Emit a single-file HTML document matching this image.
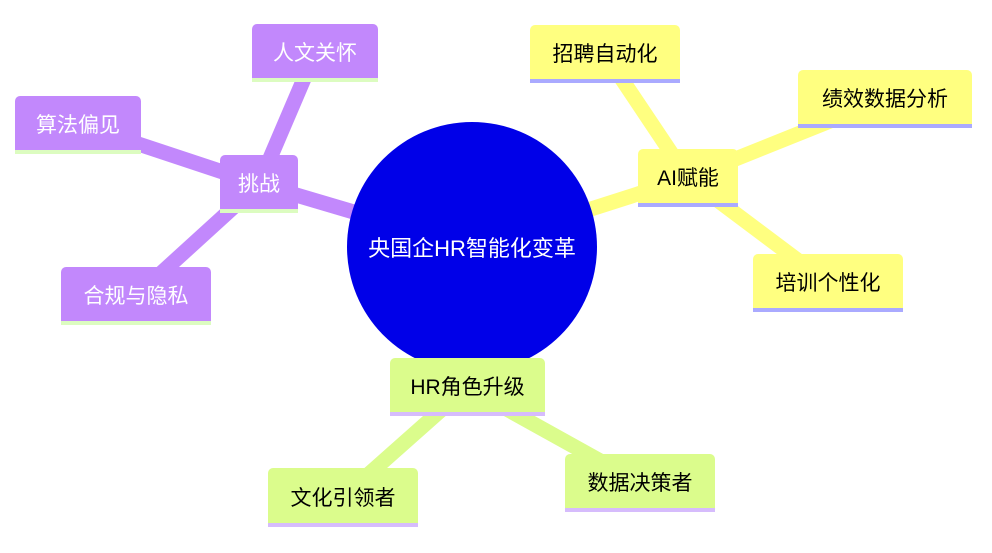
<!DOCTYPE html>
<html><head><meta charset="utf-8"><style>
body{margin:0;width:992px;height:553px;background:#fff;position:relative;overflow:hidden;font-family:"Liberation Sans","Noto Sans CJK SC",sans-serif}
svg{position:absolute;left:0;top:0}
.n{position:absolute;box-sizing:border-box;display:flex;align-items:center;justify-content:center;font-size:21px;border-radius:5px 5px 0 0;padding-top:2px}
.p{background:#c288fc;color:#fff;border-bottom:4px solid #dcfcc0}
.y{background:#ffff80;color:#000;border-bottom:4px solid #aaaaff}
.g{background:#dbfc8c;color:#000;border-bottom:4px solid #d6bcfc}
.c{position:absolute;left:347px;top:122px;width:250px;height:250px;border-radius:50%;background:#0000e8;color:#fff;font-size:22px;display:flex;align-items:center;justify-content:center}
</style></head><body>
<svg width="992" height="553">
<g stroke-width="15" stroke-linecap="butt">
<g stroke="#c288fc">
<line x1="259" y1="184" x2="472" y2="247"/>
<line x1="315" y1="53" x2="259" y2="184"/>
<line x1="78" y1="124" x2="259" y2="184"/>
<line x1="136" y1="296" x2="259" y2="184"/>
</g>
<g stroke="#ffff80">
<line x1="688" y1="178" x2="472" y2="247"/>
<line x1="605" y1="54" x2="688" y2="178"/>
<line x1="885" y1="99" x2="688" y2="178"/>
<line x1="828" y1="283" x2="688" y2="178"/>
</g>
<g stroke="#dbfc8c">
<line x1="467" y1="387" x2="472" y2="247"/>
<line x1="343" y1="497" x2="467" y2="387"/>
<line x1="640" y1="483" x2="467" y2="387"/>
</g>
</g>
</svg>
<div class="c">央国企HR智能化变革</div>
<div class="n p" style="left:252px;top:24px;width:126px;height:58px">人文关怀</div>
<div class="n p" style="left:15px;top:96px;width:126px;height:58px">算法偏见</div>
<div class="n p" style="left:220px;top:155px;width:78px;height:58px">挑战</div>
<div class="n p" style="left:61px;top:267px;width:150px;height:58px">合规与隐私</div>
<div class="n y" style="left:530px;top:25px;width:150px;height:58px">招聘自动化</div>
<div class="n y" style="left:798px;top:70px;width:174px;height:58px">绩效数据分析</div>
<div class="n y" style="left:638px;top:149px;width:100px;height:58px">AI赋能</div>
<div class="n y" style="left:753px;top:254px;width:150px;height:58px">培训个性化</div>
<div class="n g" style="left:390px;top:358px;width:155px;height:58px">HR角色升级</div>
<div class="n g" style="left:268px;top:468px;width:150px;height:59px">文化引领者</div>
<div class="n g" style="left:565px;top:454px;width:150px;height:58px">数据决策者</div>
</body></html>
